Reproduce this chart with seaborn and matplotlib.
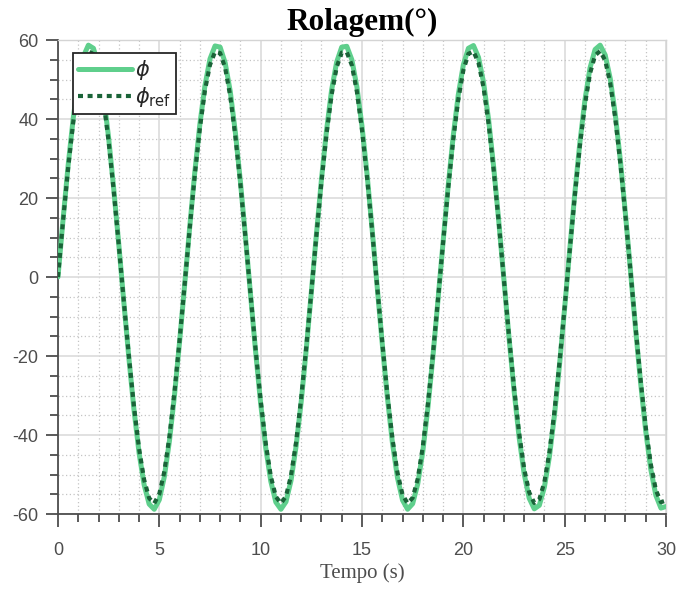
import numpy as np
import pandas as pd
import matplotlib
matplotlib.use("Agg")
import matplotlib.pyplot as plt
from matplotlib.ticker import MultipleLocator
import seaborn as sns

# Sample times (s), every 0.25 s from 0 to 30
tempo = np.arange(0, 121) * 0.25

# Measured roll angle phi (deg)
phi = [
    0.0, 14.5, 28.2, 40.1, 49.5, 55.8, 58.7, 57.9, 53.5, 45.8, 35.2,
    22.4, 8.3, -6.4, -20.6, -33.6, -44.5, -52.6, -57.5, -58.8, -56.4, -50.5,
    -41.5, -29.9, -16.4, -2.0, 12.6, 26.5, 38.6, 48.4, 55.2, 58.5, 58.2,
    54.2, 47.0, 36.7, 24.2, 10.2, -4.4, -18.8, -32.0, -43.2, -51.7, -57.0,
    -58.8, -56.9, -51.5, -42.8, -31.6, -18.3, -3.9, 10.7, 24.7, 37.1, 47.3,
    54.4, 58.2, 58.4, 55.0, 48.1, 38.2, 26.0, 12.1, -2.5, -16.9, -30.3,
    -41.9, -50.8, -56.5, -58.8, -57.4, -52.4, -44.2, -33.2, -20.1, -5.8, 8.8,
    22.9, 35.6, 46.1, 53.7, 57.9, 58.6, 55.6, 49.2, 39.7, 27.7, 14.0,
    -0.5, -15.1, -28.6, -40.5, -49.8, -56.0, -58.7, -57.8, -53.2, -45.4, -34.8,
    -22.0, -7.8, 6.9, 21.1, 34.0, 44.8, 52.9, 57.6, 58.7, 56.2, 50.2,
    41.1, 29.4, 15.9, 1.4, -13.2, -26.9, -39.0, -48.7, -55.3, -58.5, -58.1,
]

# Reference roll angle phi_ref (deg)
phi_ref = [
    0.0, 14.2, 27.5, 39.1, 48.2, 54.4, 57.2, 56.4, 52.1, 44.6, 34.3,
    21.9, 8.1, -6.2, -20.1, -32.8, -43.4, -51.3, -56.0, -57.3, -54.9, -49.2,
    -40.4, -29.1, -16.0, -1.9, 12.3, 25.8, 37.6, 47.2, 53.7, 57.0, 56.7,
    52.9, 45.8, 35.8, 23.6, 10.0, -4.3, -18.3, -31.2, -42.1, -50.4, -55.6,
    -57.3, -55.5, -50.2, -41.8, -30.7, -17.8, -3.8, 10.5, 24.1, 36.2, 46.1,
    53.1, 56.8, 56.9, 53.6, 46.9, 37.3, 25.3, 11.8, -2.4, -16.5, -29.6,
    -40.8, -49.5, -55.1, -57.3, -55.9, -51.1, -43.0, -32.3, -19.6, -5.7, 8.6,
    22.3, 34.7, 44.9, 52.3, 56.5, 57.1, 54.2, 47.9, 38.7, 27.0, 13.7,
    -0.5, -14.7, -27.9, -39.4, -48.5, -54.5, -57.2, -56.3, -51.9, -44.3, -33.9,
    -21.4, -7.6, 6.7, 20.6, 33.2, 43.7, 51.5, 56.1, 57.2, 54.8, 49.0,
    40.1, 28.7, 15.5, 1.4, -12.8, -26.2, -38.0, -47.4, -53.9, -57.0, -56.6,
]

x_ticks = [0, 5, 10, 15, 20, 25, 30]
y_ticks = [-60, -40, -20, 0, 20, 40, 60]

df = pd.DataFrame({"tempo": tempo, "phi": phi, "phi_ref": phi_ref})

sns.set_theme(style="white")
plt.rcParams["axes.unicode_minus"] = False
plt.rcParams["font.family"] = ["Liberation Sans", "DejaVu Sans"]
plt.rcParams["mathtext.fontset"] = "dejavusans"

fig = plt.figure(figsize=(6.78, 5.9), dpi=100)
ax = fig.add_axes([0.0855, 0.1288, 0.8968, 0.8034])

light_green = "#5fcf8c"
dark_green = "#1a6338"
axis_gray = "#4d4d4d"

sns.lineplot(data=df, x="tempo", y="phi", ax=ax, color=light_green,
             linewidth=3.6, label=r"$\phi$", zorder=3)
sns.lineplot(data=df, x="tempo", y="phi_ref", ax=ax, color=dark_green,
             linewidth=3.0, linestyle=(0, (1.2, 1.1)), label=r"$\phi_{\mathrm{ref}}$",
             zorder=4)

ax.set_xlim(0, 30)
ax.set_ylim(-60, 60)
ax.set_xticks(x_ticks)
ax.set_yticks(y_ticks)
ax.set_xticklabels([str(v) for v in x_ticks])
ax.set_yticklabels([str(v) for v in y_ticks])
ax.xaxis.set_minor_locator(MultipleLocator(1))
ax.yaxis.set_minor_locator(MultipleLocator(5))

ax.grid(which="major", color="#dcdcdc", linewidth=1.2, linestyle="-")
ax.grid(which="minor", color="#c4c4c4", linewidth=0.9, linestyle=(0, (1, 2)))
ax.set_axisbelow(True)

for side in ["left", "bottom"]:
    ax.spines[side].set_color(axis_gray)
    ax.spines[side].set_linewidth(1.3)
for side in ["top", "right"]:
    ax.spines[side].set_color("#d4d4d4")
    ax.spines[side].set_linewidth(1.0)

ax.tick_params(which="major", direction="out", length=9, width=1.3,
               color=axis_gray, labelcolor=axis_gray, labelsize=13)
ax.tick_params(which="minor", direction="out", length=5.5, width=1.3,
               color=axis_gray)
ax.tick_params(axis="x", which="major", pad=11)
ax.tick_params(axis="y", which="major", pad=5)
ax.tick_params(top=False, right=False, which="both")
ax.tick_params(bottom=True, left=True, which="both")

ax.set_title("Rolagem(°)", fontfamily="Liberation Serif", fontweight="bold",
             fontsize=22.5, color="black", pad=7)
ax.set_xlabel("Tempo (s)", fontfamily="Liberation Serif", fontsize=15,
              color=axis_gray, labelpad=3)
ax.set_ylabel("")

leg = ax.legend(loc="upper left", bbox_to_anchor=(0.024, 0.972), fontsize=15,
                frameon=True, fancybox=False, handlelength=2.6,
                borderpad=0.25, labelspacing=0.12, handletextpad=0.15,
                borderaxespad=0)
leg.get_frame().set_edgecolor("#262626")
leg.get_frame().set_linewidth(1.3)
leg.get_frame().set_facecolor("white")
leg.get_frame().set_alpha(1)

fig.savefig("out.png", dpi=100)
